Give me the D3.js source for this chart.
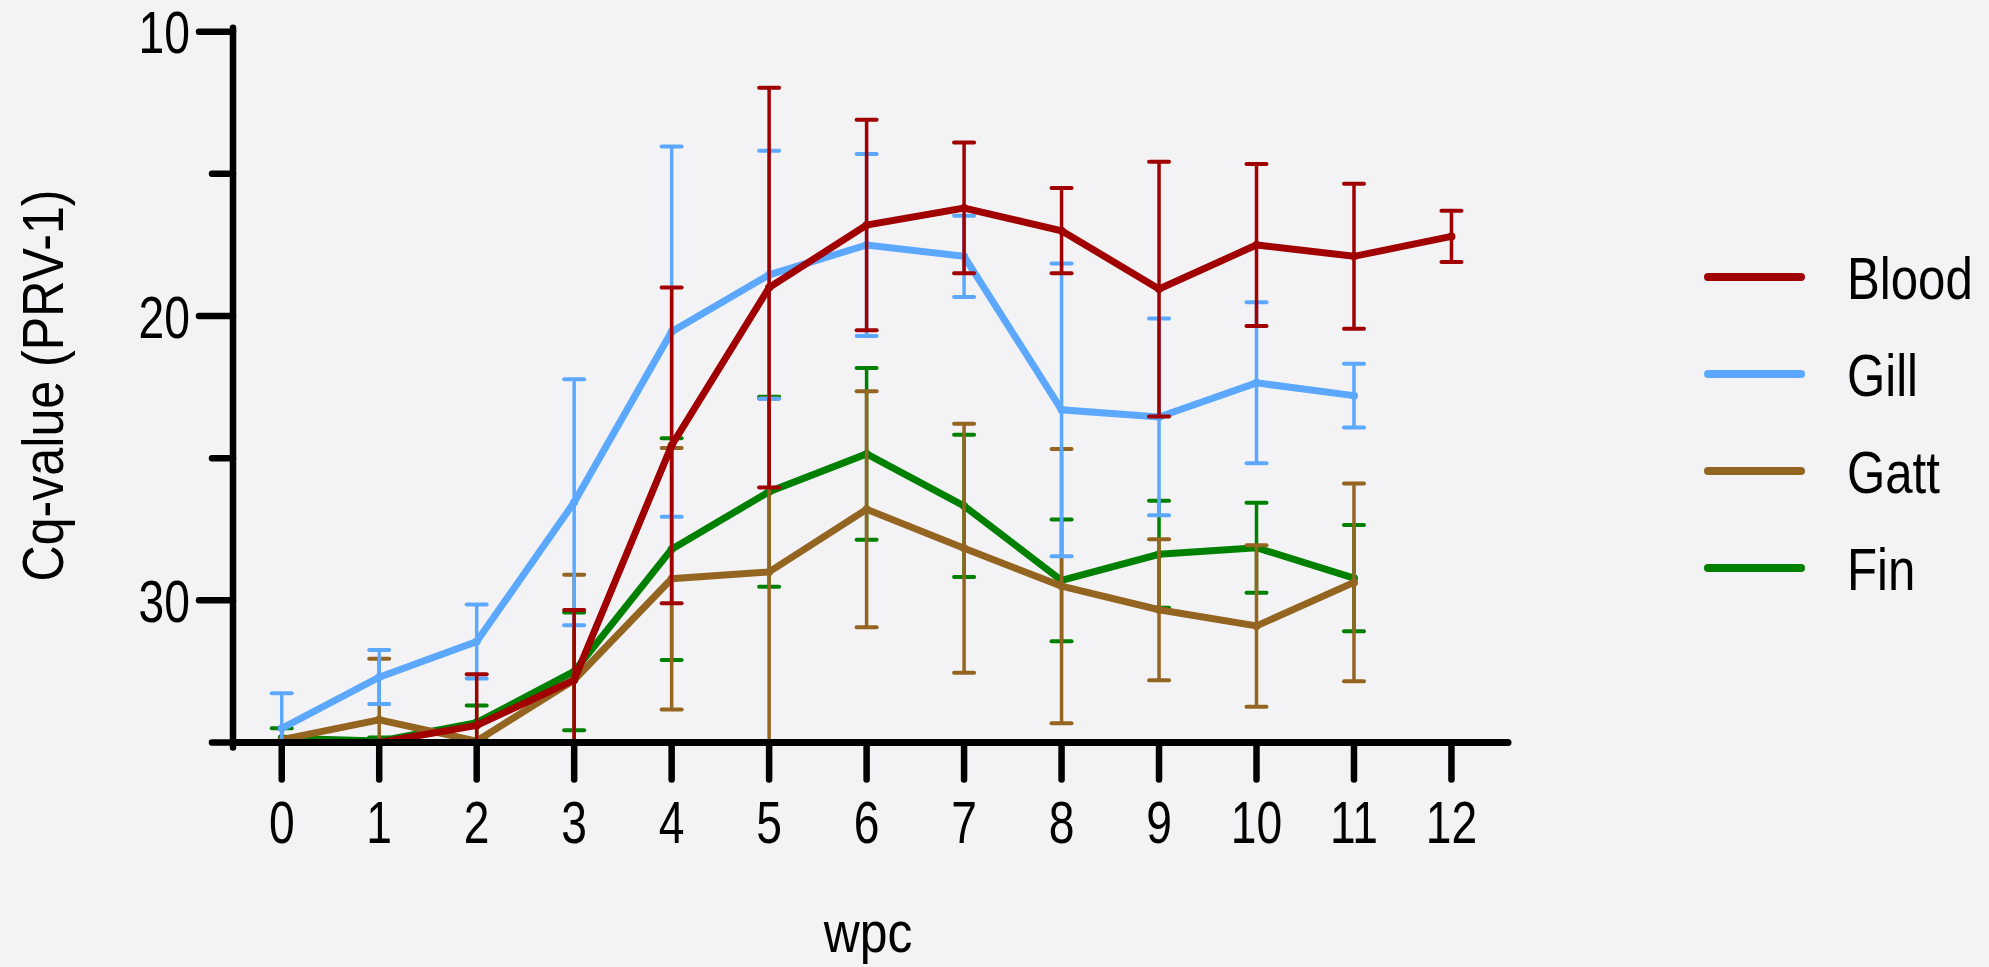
<!DOCTYPE html>
<html><head><meta charset="utf-8">
<script src="https://cdn.jsdelivr.net/npm/d3@7"></script>
<style>html,body{margin:0;padding:0;background:#f3f3f5;} svg{display:block}</style>
</head><body>
<svg id="c" width="1989" height="967"></svg>
<script>
// ---- data ----
const weeks = [0,1,2,3,4,5,6,7,8,9,10,11,12];
const seriesNames = ["Blood","Gill","Gatt","Fin"];
const bloodMean = [null, 35.0, 34.4, 32.8, 24.55, 19.0, 16.8, 16.2, 17.0, 19.05, 17.5, 17.9, 17.2];
const bloodSD   = [null, 0,    1.8,  2.46, 5.55, 7.03, 3.7,  2.3,  1.5,  4.48, 2.85, 2.55, 0.9];
const gillMean  = [34.5, 32.7, 31.45, 26.55, 20.55, 18.55, 17.5, 17.9, 23.3, 23.55, 22.35, 22.8, null];
const gillSD    = [1.23, 0.95, 1.3,  4.33, 6.51, 4.36, 3.2,  1.43, 5.15, 3.46, 2.83, 1.12, null];
const gattMean  = [34.9, 34.2, 34.95, 32.8, 29.24, 29.0, 26.8, 28.17, 29.5, 30.33, 30.9, 29.37, null];
const gattSD    = [0,    2.15, 0,    3.7,  4.6,  6.1,  4.15, 4.38, 4.82, 2.48, 2.84, 3.48, null];
const finMean   = [34.85, 34.95, 34.3, 32.5, 28.2, 26.18, 24.85, 26.68, 29.3, 28.38, 28.15, 29.22, null];
const finSD     = [0.35, 0.13, 0.6,  2.07, 3.9,  3.34, 3.02, 2.5,  2.14, 1.88, 1.58, 1.87, null];
const xTicks = [0,1,2,3,4,5,6,7,8,9,10,11,12];
const yMajorTicks = [10,20,30];
const yMinorTicks = [15,25,35];
const xTitle = "wpc";
const yTitle = "Cq-value (PRV-1)";

const colors = {Blood:"#a00000", Gill:"#5ca8ff", Gatt:"#946521", Fin:"#008000"};
const series = [
  {name:"Blood", mean:bloodMean, sd:bloodSD},
  {name:"Gill", mean:gillMean, sd:gillSD},
  {name:"Gatt", mean:gattMean, sd:gattSD},
  {name:"Fin", mean:finMean, sd:finSD}
];

// ---- setup ----
const W = 1989, H = 967;
const svg = d3.select("#c");
svg.append("rect").attr("width", W).attr("height", H).attr("fill", "#f3f3f5");
const font = "'Liberation Sans', Arial, Helvetica, sans-serif";

const x = d3.scaleLinear().domain([-0.5, 12.58]).range([233, 1508]);
const y = d3.scaleLinear().domain([10, 35]).range([31.7, 742.5]);
const yMax = 35;

// ---- series (bottom to top: Fin, Gatt, Gill, Blood) ----
const drawOrder = series.slice().reverse();
const capHalf = 10;
drawOrder.forEach(s => {
  const col = colors[s.name];
  const g = svg.append("g");
  const pts = weeks.map((w, i) => ({w, v: s.mean[i], sd: s.sd[i]}));
  const bars = pts.filter(p => p.v != null && p.sd > 0);
  // error bars
  bars.forEach(p => {
    const top = p.v - p.sd;
    const bot = Math.min(yMax, p.v + p.sd);
    g.append("line").attr("x1", x(p.w)).attr("x2", x(p.w))
      .attr("y1", y(top)).attr("y2", y(bot))
      .attr("stroke", col).attr("stroke-width", 3.5);
    g.append("line").attr("x1", x(p.w) - capHalf).attr("x2", x(p.w) + capHalf)
      .attr("y1", y(top)).attr("y2", y(top))
      .attr("stroke", col).attr("stroke-width", 4).attr("stroke-linecap", "round");
    if (p.v + p.sd <= yMax) {
      g.append("line").attr("x1", x(p.w) - capHalf).attr("x2", x(p.w) + capHalf)
        .attr("y1", y(bot)).attr("y2", y(bot))
        .attr("stroke", col).attr("stroke-width", 4).attr("stroke-linecap", "round");
    }
  });
  const line = d3.line().defined(d => d.v != null).x(d => x(d.w)).y(d => y(d.v));
  g.append("path").datum(pts).attr("d", line)
    .attr("fill", "none").attr("stroke", col).attr("stroke-width", 7)
    .attr("stroke-linejoin", "miter").attr("stroke-miterlimit", 6);
  g.selectAll("circle").data(pts.filter(p => p.v != null)).join("circle")
    .attr("cx", d => x(d.w)).attr("cy", d => y(d.v)).attr("r", 4).attr("fill", col);
});

// ---- axes ----
const ax = svg.append("g").attr("stroke", "#000").attr("stroke-linecap", "round");
// y axis line
ax.append("line").attr("x1", x.range()[0]).attr("x2", x.range()[0])
  .attr("y1", y(10) - 4).attr("y2", y(35) + 5).attr("stroke-width", 6.5);
// x axis line
ax.append("line").attr("x1", x.range()[0]).attr("x2", x.range()[1])
  .attr("y1", y(35)).attr("y2", y(35)).attr("stroke-width", 7);
// y ticks
ax.selectAll(".ymaj").data(yMajorTicks).join("line")
  .attr("x1", x.range()[0] - 34).attr("x2", x.range()[0])
  .attr("y1", d => y(d)).attr("y2", d => y(d)).attr("stroke-width", 6.5);
ax.selectAll(".ymin").data(yMinorTicks).join("line").attr("class","ymin")
  .attr("x1", x.range()[0] - 21).attr("x2", x.range()[0])
  .attr("y1", d => y(d)).attr("y2", d => y(d)).attr("stroke-width", 6.5);
// x ticks
ax.selectAll(".xt").data(xTicks).join("line").attr("class","xt")
  .attr("x1", d => x(d)).attr("x2", d => x(d))
  .attr("y1", y(35)).attr("y2", y(35) + 37).attr("stroke-width", 6.5);

// tick labels
const tickScale = 0.77;
svg.append("g").selectAll("g").data(yMajorTicks).join("g")
  .attr("transform", d => `translate(190,${y(d) + 21.5}) scale(${tickScale},1)`)
  .append("text").attr("text-anchor", "end").attr("font-family", font)
  .attr("font-size", 60).attr("fill", "#000").text(d => d);
svg.append("g").selectAll("g").data(xTicks).join("g")
  .attr("transform", d => `translate(${x(d)},843) scale(${tickScale},1)`)
  .append("text").attr("text-anchor", "middle").attr("font-family", font)
  .attr("font-size", 60).attr("fill", "#000").text(d => d);

// axis titles
svg.append("g").attr("transform", "translate(868,952) scale(0.86,1)")
  .append("text").attr("text-anchor", "middle").attr("font-family", font)
  .attr("font-size", 58).attr("fill", "#000").text(xTitle);
svg.append("g").attr("transform", "translate(63,385.5) rotate(-90) scale(0.88,1)")
  .append("text").attr("text-anchor", "middle").attr("font-family", font)
  .attr("font-size", 57).attr("fill", "#000").text(yTitle);

// ---- legend ----
const lg = svg.append("g");
seriesNames.forEach((n, i) => {
  const ly = 277 + i * 97;
  lg.append("line").attr("x1", 1708).attr("x2", 1801).attr("y1", ly).attr("y2", ly)
    .attr("stroke", colors[n]).attr("stroke-width", 8).attr("stroke-linecap", "round");
  lg.append("circle").attr("cx", 1754.5).attr("cy", ly).attr("r", 4).attr("fill", colors[n]);
  lg.append("g").attr("transform", `translate(1847,${ly + 22}) scale(0.82,1)`)
    .append("text").attr("font-family", font).attr("font-size", 60).attr("fill", "#000").text(n);
});
</script>
</body></html>
